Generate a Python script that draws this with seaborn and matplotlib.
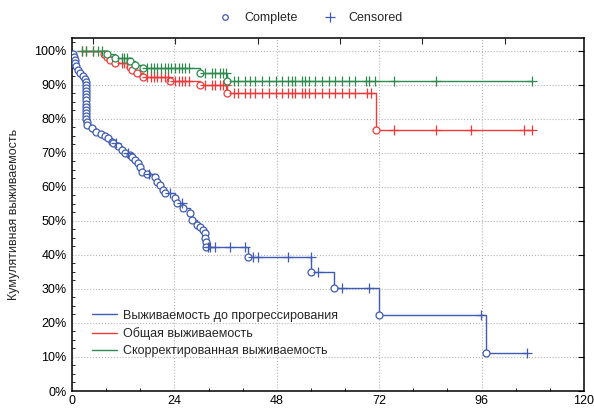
import numpy as np
import pandas as pd
import seaborn as sns
import matplotlib.pyplot as plt
import matplotlib.ticker as mticker
from matplotlib.lines import Line2D

# Kaplan-Meier curves (time in months, survival in %)
# Выживаемость до прогрессирования
pfs_event_t = [0.3, 0.5, 0.6, 0.8, 1.0, 1.3, 1.8, 2.6, 3.1, 3.3, 3.3, 3.3, 3.3, 3.3, 3.3, 3.3,
               3.3, 3.3, 3.3, 3.3, 3.3, 3.3, 3.4, 3.6, 4.6, 5.6, 6.7, 7.7, 8.5, 9.3, 9.6, 10.8,
               11.7, 12.4, 13.6, 14.0, 14.8, 15.5, 16.0, 16.4, 17.5, 19.5, 19.9, 20.7, 21.4,
               21.8, 24.2, 24.6, 26.1, 27.7, 28.1, 29.3, 30.0, 30.8, 31.2, 31.2, 31.5, 31.5,
               41.2, 56.0, 61.3, 72.0, 97.0]
pfs_event_s = [99.1, 98.2, 97.3, 96.4, 95.5, 94.5, 93.6, 92.7, 91.8, 90.9, 90.0, 89.1, 88.2,
               87.3, 86.4, 85.5, 84.5, 83.6, 82.7, 81.8, 80.9, 80.0, 79.1, 78.2, 77.3, 76.3,
               75.6, 75.0, 74.4, 73.3, 72.9, 71.9, 70.9, 70.1, 69.4, 68.9, 67.9, 67.1, 66.0,
               64.5, 63.8, 63.0, 61.6, 60.6, 59.1, 58.1, 56.8, 55.3, 53.8, 52.4, 50.3, 48.8,
               48.3, 47.4, 46.5, 45.0, 43.9, 42.4, 39.5, 35.1, 30.2, 22.4, 11.1]
pfs_cens_t = [10.2, 13.2, 18.1, 23.0, 25.8, 31.8, 32.4, 33.6, 37.1, 40.6, 42.5, 43.7, 50.7,
              55.9, 57.7, 63.3, 69.5, 95.8, 106.6]

# Общая выживаемость
os_event_t = [7.5, 8.1, 8.9, 10.1, 13.6, 14.0, 15.2, 16.7, 23.0, 30.0, 36.3, 71.3]
os_event_s = [99.1, 98.2, 97.3, 96.4, 95.4, 94.4, 93.4, 92.4, 91.2, 90.1, 87.6, 76.8]
os_cens_t = [2.4, 3.3, 5.0, 11.7, 12.3, 12.8, 17.6, 18.4, 19.2, 20.0, 20.8, 21.7, 22.5, 24.2,
             25.0, 25.8, 26.6, 27.4, 31.2, 32.8, 33.6, 34.7, 35.5, 36.0, 37.9, 39.0, 40.6,
             41.8, 43.0, 44.5, 46.1, 47.7, 49.2, 50.7, 51.5, 52.3, 53.9, 54.7, 55.5, 57.0,
             58.6, 60.2, 61.7, 63.3, 64.9, 66.4, 69.2, 70.0, 75.4, 85.2, 93.4, 105.9, 107.9]

# Скорректированная выживаемость
css_event_t = [8.1, 10.1, 13.6, 14.8, 16.7, 30.0, 36.3]
css_event_s = [99.1, 97.9, 97.0, 96.0, 94.9, 93.4, 91.3]
css_cens_t = [2.4, 3.3, 5.0, 6.2, 7.0, 11.7, 12.3, 12.8, 17.6, 18.4, 19.2, 20.0, 20.8, 21.7,
              22.5, 23.3, 24.2, 25.0, 25.8, 26.6, 27.4, 31.2, 32.8, 33.6, 34.7, 35.5, 36.0,
              37.9, 39.0, 40.6, 41.8, 43.0, 44.5, 46.1, 47.7, 49.2, 50.7, 51.5, 52.3, 53.9,
              54.7, 55.5, 57.0, 58.6, 60.2, 61.7, 63.3, 64.9, 66.4, 68.8, 69.6, 71.1, 75.4,
              85.2, 107.9]

labels = ['Выживаемость до прогрессирования', 'Общая выживаемость',
          'Скорректированная выживаемость']
colours = ['#3f5bb3', '#f03a3a', '#2e8a4e']


def level_at(t, ev_t, ev_s):
    # survival level just after time t (last event not later than t)
    idx = np.searchsorted(ev_t, t, side='right') - 1
    return 100.0 if idx < 0 else ev_s[idx]


def km_frame(ev_t, ev_s, cens_t, start_t=None):
    ev_t = np.array(ev_t)
    ev_s = np.array(ev_s)
    cens_s = [level_at(t, ev_t, ev_s) for t in cens_t]
    rows = [(t, s, 0) for t, s in zip(ev_t, ev_s)] + \
           [(t, s, 1) for t, s in zip(cens_t, cens_s)]
    if start_t is not None:
        rows.append((start_t, 100.0, -1))
    df = pd.DataFrame(rows, columns=['t', 's', 'kind'])
    df = df.sort_values(['t', 'kind', 's'], ascending=[True, True, False],
                        kind='stable').reset_index(drop=True)
    return df


curves = [km_frame(pfs_event_t, pfs_event_s, pfs_cens_t, start_t=0.0),
          km_frame(os_event_t, os_event_s, os_cens_t),
          km_frame(css_event_t, css_event_s, css_cens_t)]

sns.set_style("white")
plt.rcParams['font.family'] = ['Liberation Sans', 'DejaVu Sans']
plt.rcParams['font.size'] = 9

fig = plt.figure(figsize=(5.94, 4.09), dpi=100)
ax = fig.add_axes([72 / 594, 1 - 391 / 409, 512 / 594, 353 / 409])

line_handles = []
for df, col, lab in zip(curves, colours, labels):
    sns.lineplot(data=df, x='t', y='s', drawstyle='steps-post', estimator=None,
                 sort=False, color=col, lw=1.0, ax=ax, legend=False)
    ev = df[df['kind'] == 0]
    ce = df[df['kind'] == 1]
    ax.plot(ev['t'], ev['s'], ls='none', marker='o', ms=5, mfc='white',
            mec=col, mew=0.9, zorder=3)
    ax.plot(ce['t'], ce['s'], ls='none', marker='+', ms=7, mec=col, mew=0.9, zorder=3)
    line_handles.append(Line2D([], [], color=col, lw=1.0))

ax.set_xlim(0, 120)
ax.set_ylim(0, 103.8)
ax.set_xticks(np.arange(0, 121, 24))
ax.set_yticks(np.arange(0, 101, 10))
ax.xaxis.set_minor_locator(mticker.MultipleLocator(8))
ax.yaxis.set_minor_locator(mticker.MultipleLocator(2.5))
ax.yaxis.set_major_formatter(mticker.FuncFormatter(lambda v, _: f'{v:.0f}%'))
ax.set_xlabel('')
ax.set_ylabel('Кумулятивная выживаемость', fontsize=9)
ax.yaxis.set_label_coords(-0.1016, 0.5)

ax.tick_params(which='major', direction='in', length=4, width=0.8, right=True,
               labelsize=9, colors='black')
ax.tick_params(axis='x', which='major', pad=3)
ax.tick_params(axis='y', which='major', pad=4)
ax.tick_params(which='minor', direction='in', length=2.5, width=0.7, left=True,
               bottom=True, right=False, top=False)

top = ax.secondary_xaxis('top')
top.set_xticks([4.9, 24.2, 43.5, 62.8, 82.1, 101.4])
top.tick_params(direction='in', length=4, width=0.8, labeltop=False)
top.spines['top'].set_visible(False)

ax.grid(True, which='major', ls=':', color='#b5b5b5', lw=0.8)
for sp in ax.spines.values():
    sp.set_color('black')
    sp.set_linewidth(1.1)

ax.legend(line_handles, labels, loc='lower left', bbox_to_anchor=(0.027, 0.078),
          frameon=False, fontsize=9, handlelength=2.0, handletextpad=0.45,
          labelspacing=0.42, borderpad=0)

top_handles = [Line2D([], [], ls='none', marker='o', ms=4, mfc='white', mec=colours[0], mew=0.9),
               Line2D([], [], ls='none', marker='+', ms=7, mec=colours[0], mew=0.9)]
fig.legend(top_handles, ['Complete', 'Censored'], loc='center', ncol=2,
           bbox_to_anchor=(0.518, 0.955), frameon=False, fontsize=9,
           handletextpad=0.5, columnspacing=1.6)

fig.savefig('out.png', dpi=100)
